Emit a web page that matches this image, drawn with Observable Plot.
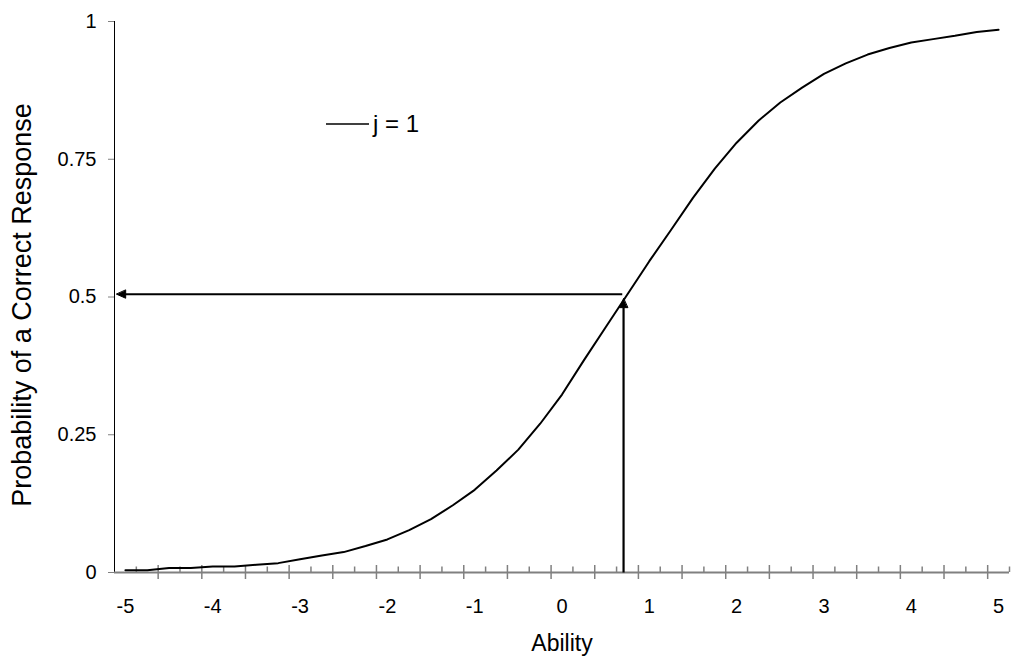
<!DOCTYPE html>
<html>
<head>
<meta charset="utf-8">
<script src="https://cdn.jsdelivr.net/npm/d3@7"></script>
<script src="https://cdn.jsdelivr.net/npm/@observablehq/plot@0.6"></script>
<style>
  html, body { margin: 0; padding: 0; background: #ffffff; }
  #wrap { position: relative; width: 1012px; height: 671px; font-family: "Liberation Sans", Arial, sans-serif; }
  #legend { position: absolute; left: 326px; top: 110px; display: flex; align-items: center; font-size: 24px; color: #000; }
  #legend svg { display: block; margin-right: 4px; }
</style>
</head>
<body>
<div id="wrap">
  <div id="chart"></div>
  <div id="legend"></div>
</div>
<script>
// ---- data ----
const ability = [-5, -4.75, -4.5, -4.25, -4, -3.75, -3.5, -3.25, -3, -2.75, -2.5, -2.25, -2, -1.75, -1.5, -1.25, -1, -0.75, -0.5, -0.25, 0,
                 0.25, 0.5, 0.75, 1, 1.25, 1.5, 1.75, 2, 2.25, 2.5, 2.75, 3, 3.25, 3.5, 3.75, 4, 4.25, 4.5, 4.75, 5];
const probability = [0.004, 0.004, 0.008, 0.008, 0.011, 0.011, 0.014, 0.017, 0.024, 0.031, 0.037, 0.048, 0.06, 0.077, 0.097, 0.122, 0.15, 0.185, 0.223, 0.27, 0.323,
                     0.385, 0.445, 0.505, 0.565, 0.622, 0.68, 0.733, 0.78, 0.82, 0.853, 0.88, 0.905, 0.924, 0.94, 0.952, 0.962, 0.968, 0.974, 0.981, 0.985];
const xTickLabels = [-5, -4, -3, -2, -1, 0, 1, 2, 3, 4, 5];
const yTickValues = [0, 0.25, 0.5, 0.75, 1];
const yTickLabels = ["0", "0.25", "0.5", "0.75", "1"];
const seriesName = "j = 1";
const xTitle = "Ability";
const yTitle = "Probability of a Correct Response";
// reference arrows: from the curve at P = 0.5 to the y axis, and from the x axis up to the curve
const hArrowFrom = [0.69, 0.505];
const hArrowTo = [-5.1, 0.505];
const vArrowFrom = [0.705, 0];
const vArrowTo = [0.705, 0.497];

// ---- layout ----
const W = 1012, H = 671;
const mL = 114, mR = 3, mT = 21, mB = 99;
const step = 0.25;                       // category spacing
const xDomain = [ability[0] - step / 2, ability[ability.length - 1] + step / 2];
const plotH = H - mT - mB;
const pxY = 1 / plotH;                    // one pixel in y units

const rows = ability.map((a, i) => ({ability: a, p: probability[i]}));
const boundaries = d3.range(0, ability.length + 1).map(k => xDomain[0] + k * step);
const majorTicks = boundaries.filter((d, k) => k % 2 === 0 && k > 0);
const minorTicks = boundaries.filter((d, k) => k % 2 === 1);

const gray = "#808080";
const font = "Liberation Sans, Arial, sans-serif";

const triangle = {
  draw(context, l) {
    context.moveTo(0, 0);
    context.lineTo(-4, l);
    context.lineTo(4, l);
    context.closePath();
  }
};

const chart = Plot.plot({
  width: W, height: H,
  marginLeft: mL, marginRight: mR, marginTop: mT, marginBottom: mB,
  style: {fontFamily: font, background: "#ffffff", color: "#000"},
  x: {domain: xDomain, axis: null},
  y: {domain: [0, 1], axis: null},
  marks: [
    // y axis
    Plot.ruleX([xDomain[0]], {stroke: "#000", strokeWidth: 1}),
    Plot.axisY({ticks: yTickValues, tickFormat: (d) => yTickLabels[yTickValues.indexOf(d)], tickSize: 6, tickPadding: 12,
                label: null, stroke: gray, fill: "#000", fontSize: 20}),
    // x axis
    Plot.ruleY([0], {stroke: gray, strokeWidth: 2}),
    Plot.ruleX(majorTicks, {x: d => d, y1: -7 * pxY, y2: 7 * pxY, stroke: gray, strokeWidth: 1.5}),
    Plot.ruleX(minorTicks, {x: d => d, y1: 0, y2: 5.5 * pxY, stroke: gray, strokeWidth: 1.5}),
    Plot.axisX({ticks: xTickLabels, tickFormat: d => `${d}`, tickSize: 0, tickPadding: 26, label: null, fontSize: 20}),
    // titles
    Plot.text([xTitle], {frameAnchor: "bottom", dy: 78, fontSize: 23, fill: "#000"}),
    Plot.text([yTitle], {frameAnchor: "left", textAnchor: "middle", lineAnchor: "middle", rotate: -90, dx: -92, dy: 8, fontSize: 27, fill: "#000"}),
    // curve
    Plot.line(rows, {x: "ability", y: "p", stroke: "#000", strokeWidth: 2}),
    // arrows
    Plot.link([0], {x1: hArrowFrom[0], y1: hArrowFrom[1], x2: hArrowTo[0] + 0.09, y2: hArrowTo[1], stroke: "#000", strokeWidth: 2.2}),
    Plot.vector([0], {x: hArrowTo[0], y: hArrowTo[1], length: 9, rotate: -90, anchor: "start", shape: triangle, fill: "#000", stroke: "#000", strokeWidth: 1}),
    Plot.link([0], {x1: vArrowFrom[0], y1: vArrowFrom[1], x2: vArrowTo[0], y2: vArrowTo[1] - 9 * pxY, stroke: "#000", strokeWidth: 2.2}),
    Plot.vector([0], {x: vArrowTo[0], y: vArrowTo[1], length: 9, rotate: 0, anchor: "start", shape: triangle, fill: "#000", stroke: "#000", strokeWidth: 1})
  ]
});
document.getElementById("chart").append(chart);

// legend (inside the plot area, top left)
const legend = document.getElementById("legend");
legend.innerHTML = `<svg width="43" height="4"><line x1="0" y1="2" x2="43" y2="2" stroke="#000" stroke-width="1.5"/></svg><span>${seriesName}</span>`;
</script>
</body>
</html>
